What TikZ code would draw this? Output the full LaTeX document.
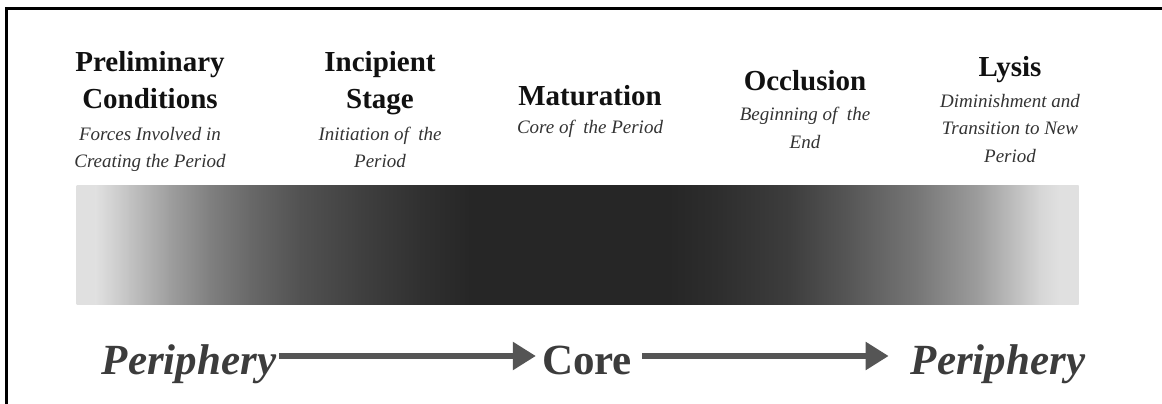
\documentclass[tikz,border=0pt]{standalone}
\usepackage{fontspec}
\setmainfont{Liberation Serif}
\usetikzlibrary{arrows.meta}

\definecolor{headink}{HTML}{111111}
\definecolor{subink}{HTML}{333333}
\definecolor{flowink}{HTML}{3C3C3C}
\definecolor{arrowink}{HTML}{555555}

\tikzset{
  heading/.style={anchor=base, inner sep=0pt, text=headink,
    font=\fontsize{29}{32}\selectfont\bfseries},
  subhead/.style={anchor=base, inner sep=0pt, text=subink,
    font=\fontsize{19}{22}\selectfont\itshape},
  flowword/.style={anchor=base, inner sep=0pt, text=flowink,
    font=\fontsize{43}{46}\selectfont\bfseries\itshape},
  coreword/.style={anchor=base, inner sep=0pt, text=flowink,
    font=\fontsize{43}{46}\selectfont\bfseries},
  flowarrow/.style={draw=arrowink, line width=5.5pt,
    -{Triangle[length=23pt,width=27pt,fill=arrowink]}},
  frame/.style={draw=black, line width=3pt}
}

\begin{document}
\begin{tikzpicture}[x=1pt, y=-1pt]
  \useasboundingbox (0,0) rectangle (1162,404);
  \clip (0,0) rectangle (1162,404);
  \fill[white] (0,0) rectangle (1162,404);

  % outer frame (runs off the right and bottom edges)
  \draw[frame] (6,420) -- (6,9) -- (1180,9);

  % intensity band: light at both ends, darkest in the middle
  \foreach \xa/\ga/\xb/\gb in {
      77/88/96/88, 96/88/130/76, 130/76/170/62, 170/62/210/50,
      210/50/250/41, 250/41/300/32, 300/32/360/25, 360/25/420/19,
      420/19/470/15, 470/15/670/15, 670/15/720/18, 720/18/790/24,
      790/24/850/34, 850/34/920/47, 920/47/980/62, 980/62/1040/84,
      1040/84/1060/88, 1060/88/1078/88}{
    \shade[left color=white!\ga!black, right color=white!\gb!black]
      (\xa-0.5,185) rectangle (\xb+0.5,304);
  }

  % stage headings
  \node[heading] (prelim1) at (150,71)  {Preliminary};
  \node[heading] (prelim2) at (150,108) {Conditions};
  \node[subhead] (prelim3) at (150,140) {Forces Involved in};
  \node[subhead] (prelim4) at (150,167) {Creating the Period};

  \node[heading] (incip1) at (380,71)  {Incipient};
  \node[heading] (incip2) at (380,108) {Stage};
  \node[subhead] (incip3) at (380,140) {Initiation of\ \ the};
  \node[subhead] (incip4) at (380,167) {Period};

  \node[heading] (matur1) at (590,105) {Maturation};
  \node[subhead] (matur2) at (590,133) {Core of\ \ the Period};

  \node[heading] (occl1) at (805,91)  {Occlusion};
  \node[subhead] (occl2) at (805,120) {Beginning of\ \ the};
  \node[subhead] (occl3) at (805,148) {End};

  \node[heading] (lysis1) at (1010,77)  {Lysis};
  \node[subhead] (lysis2) at (1010,107) {Diminishment and};
  \node[subhead] (lysis3) at (1010,134) {Transition to New};
  \node[subhead] (lysis4) at (1010,162) {Period};

  % periphery -> core -> periphery
  \node[flowword] (perileft)  at (189,374) {Periphery};
  \node[coreword] (core)      at (587,374) {Core};
  \node[flowword] (periright) at (998,374) {Periphery};

  \draw[flowarrow] ([xshift=3pt,yshift=18pt]perileft.base east)
    -- ([xshift=-6pt,yshift=18pt]core.base west);
  \draw[flowarrow] ([xshift=10pt,yshift=18pt]core.base east)
    -- ([xshift=-22pt,yshift=18pt]periright.base west);
\end{tikzpicture}
\end{document}
